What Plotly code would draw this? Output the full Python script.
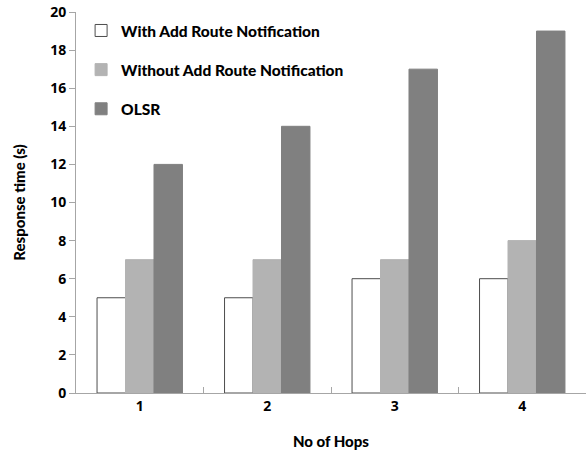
import plotly.graph_objects as go

hops = ["1", "2", "3", "4"]
with_notification = [5, 5, 6, 6]
without_notification = [7, 7, 7, 8]
olsr = [12, 14, 17, 19]

series = [
    ("With Add Route Notification", with_notification, "#ffffff", "#4d4d4d"),
    ("Without Add Route Notification", without_notification, "#b3b3b3", "#b3b3b3"),
    ("OLSR", olsr, "#808080", "#808080"),
]

font_family = "Lato, 'Open Sans', sans-serif"
bold = dict(family=font_family, size=15, color="black", weight=900)
tick_bold = dict(family="'Open Sans', sans-serif", size=14, color="black", weight="bold")

fig = go.Figure()
for i, (name, vals, fill, edge) in enumerate(series):
    fig.add_trace(go.Bar(
        x=hops, y=vals, name=name, legendgroup=f"g{i}",
        marker=dict(color=fill, line=dict(color=edge, width=1)),
    ))

fig.update_layout(
    width=587, height=453,
    margin=dict(l=76, r=1, t=12, b=60),
    paper_bgcolor="white", plot_bgcolor="white",
    barmode="group", bargap=0.33, bargroupgap=0,
    font=bold,
    showlegend=True,
    legend=dict(
        x=0.01, y=0.995, xanchor="left", yanchor="top",
        bgcolor="rgba(0,0,0,0)", traceorder="grouped", tracegroupgap=16,
        font=dict(family=font_family, size=15.5, color="black", weight=900),
        itemwidth=30,
    ),
    xaxis=dict(
        title=dict(text="No of Hops", standoff=22, font=bold),
        showline=True, linecolor="#a6a6a6", linewidth=1,
        ticks="inside", ticklen=6, tickcolor="#a6a6a6", tickson="boundaries",
        tickfont=tick_bold,
        showgrid=False, zeroline=False,
    ),
    yaxis=dict(
        title=dict(text="Response time (s)", standoff=20, font=bold),
        range=[0, 20], dtick=2,
        showline=True, linecolor="#a6a6a6", linewidth=1,
        ticks="outside", ticklen=6, tickcolor="#a6a6a6",
        tickfont=tick_bold,
        showgrid=False, zeroline=False,
    ),
)

fig.write_html("out.html")
